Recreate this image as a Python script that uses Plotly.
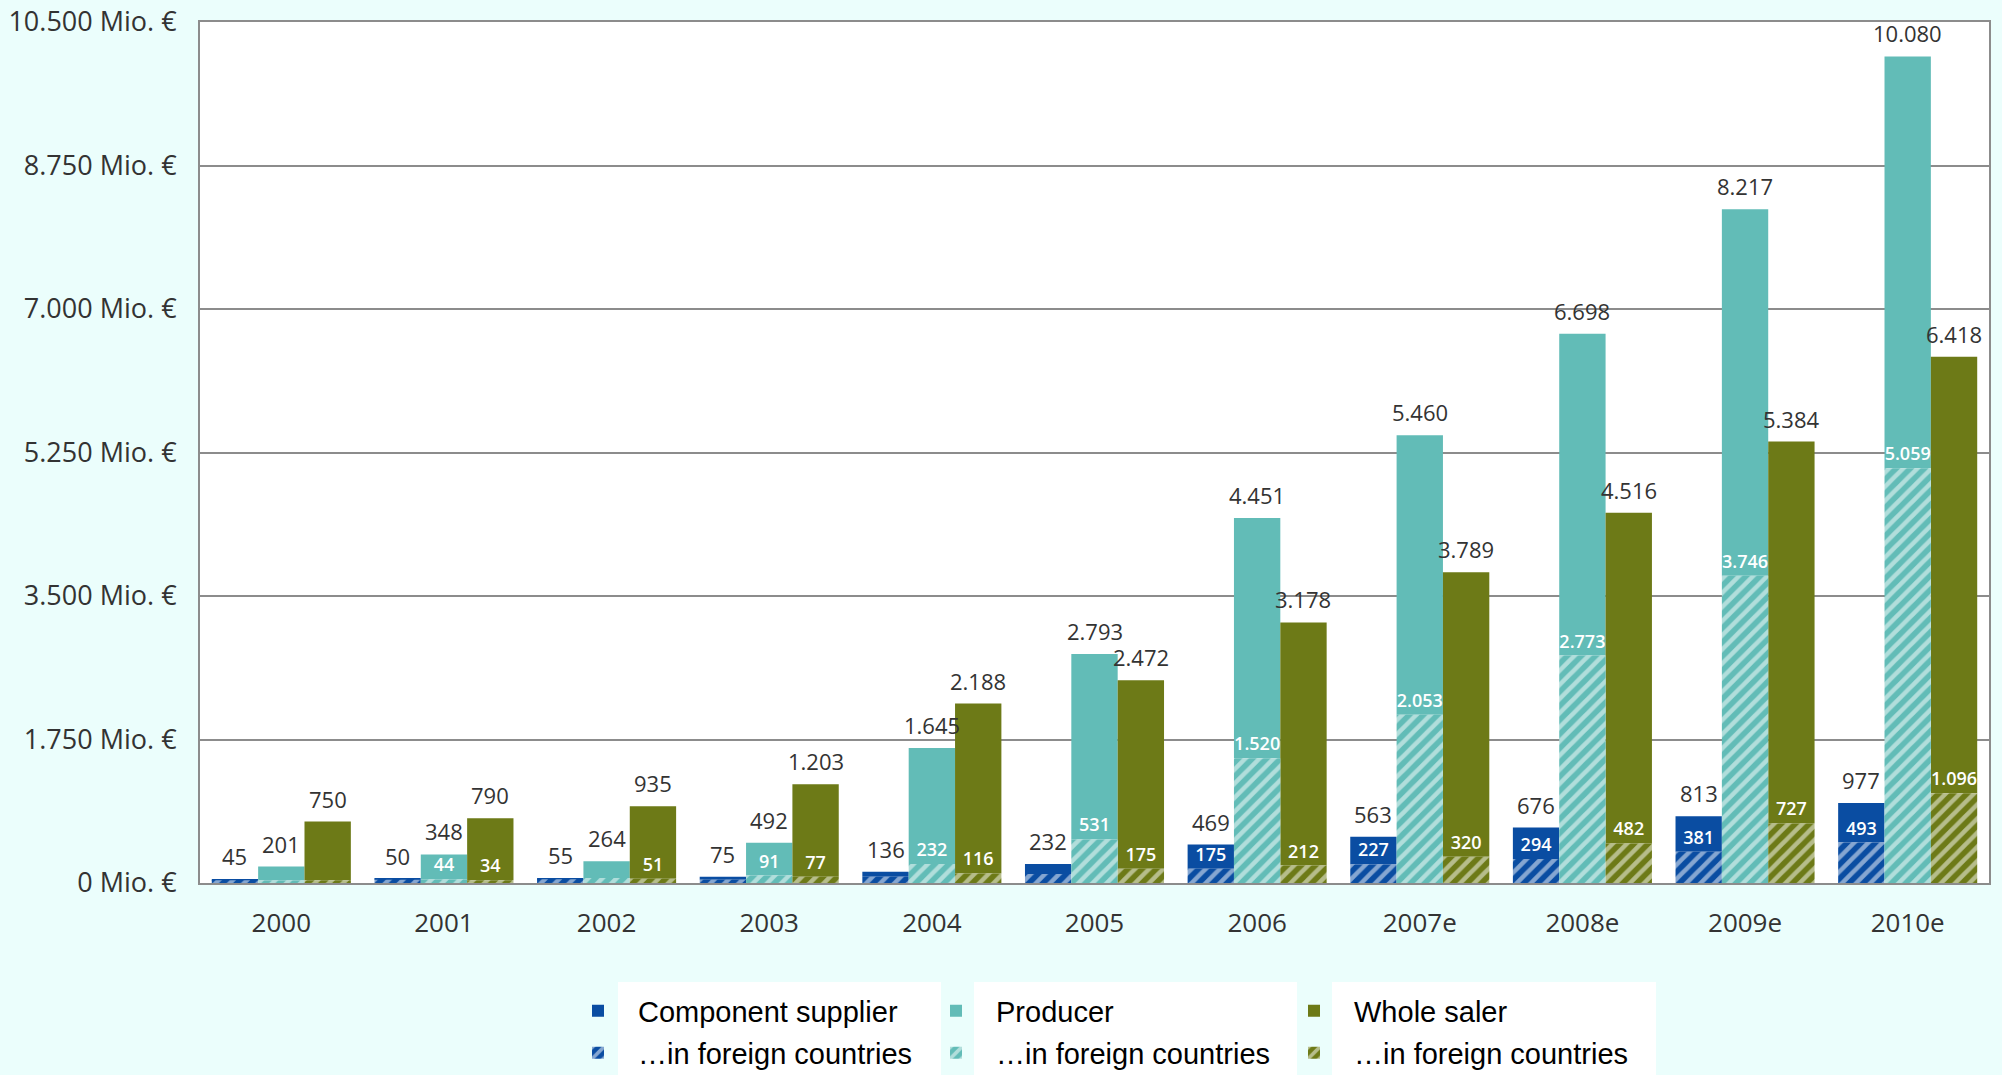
import plotly.graph_objects as go

years = ["2000", "2001", "2002", "2003", "2004", "2005", "2006", "2007e", "2008e", "2009e", "2010e"]

component_total = [45, 50, 55, 75, 136, 232, 469, 563, 676, 813, 977]
producer_total = [201, 348, 264, 492, 1645, 2793, 4451, 5460, 6698, 8217, 10080]
wholesaler_total = [750, 790, 935, 1203, 2188, 2472, 3178, 3789, 4516, 5384, 6418]

component_foreign = [35, 40, 45, 40, 75, 110, 175, 227, 294, 381, 493]
producer_foreign = [30, 44, 60, 91, 232, 531, 1520, 2053, 2773, 3746, 5059]
wholesaler_foreign = [35, 34, 51, 77, 116, 175, 212, 320, 482, 727, 1096]

# which foreign values are printed in the chart
component_foreign_shown = [False] * 6 + [True] * 5
producer_foreign_shown = [False, True, False] + [True] * 8
wholesaler_foreign_shown = [False] + [True] * 10

series_names = ["Component supplier", "Producer", "Whole saler"]
foreign_name = "…in foreign countries"
colors = ["#0A4DA2", "#62BCB7", "#6D7A17"]

BG = "#EBFEFC"
GRID = "#8C8C8C"
TXT = "#333333"
FONT = "Open Sans"
BARGAP = 0.145


def de(v):
    return f"{v:,}".replace(",", ".")


totals = [component_total, producer_total, wholesaler_total]
foreigns = [component_foreign, producer_foreign, wholesaler_foreign]
shown = [component_foreign_shown, producer_foreign_shown, wholesaler_foreign_shown]

fig = go.Figure()

# solid (domestic) part
for i in range(3):
    tot, fo = totals[i], foreigns[i]
    fig.add_trace(go.Bar(
        x=years,
        y=[t - f for t, f in zip(tot, fo)],
        base=fo,
        name=series_names[i],
        offsetgroup=str(i),
        marker=dict(color=colors[i], line=dict(width=0)),
        legend="legend",
        hoverinfo="skip",
    ))

# hatched (foreign) part, label placed just above it
for i in range(3):
    fo, sh = foreigns[i], shown[i]
    fig.add_trace(go.Bar(
        x=years,
        y=fo,
        name=foreign_name,
        offsetgroup=str(i),
        marker=dict(
            color=colors[i],
            line=dict(width=0),
            pattern=dict(shape="/", fgcolor="white", bgcolor=colors[i], size=10, solidity=0.45),
        ),
        text=[de(f) if s else "" for f, s in zip(fo, sh)],
        textposition="outside",
        textfont=dict(family=FONT, size=18, color="white", weight=600),
        constraintext="none",
        cliponaxis=False,
        legend="legend2",
        hoverinfo="skip",
    ))

# total labels above each bar
slot = (1 - BARGAP) / 3
annotations = []
for i in range(3):
    for j, t in enumerate(totals[i]):
        annotations.append(dict(
            x=j + (i - 1) * slot, y=t, xref="x", yref="y",
            text=de(t), showarrow=False,
            xanchor="center", yanchor="bottom", yshift=6,
            font=dict(family=FONT, size=22, color=TXT),
        ))

# white boxes behind the legend texts
W0, W1 = 200, 1989
H0, H1 = 883, 22
def px(x):
    return (x - W0) / (W1 - W0)
def py(y):
    return (H0 - y) / (H0 - H1)

shapes = []
for x0, x1 in [(618, 941), (974, 1297), (1332, 1656)]:
    shapes.append(dict(type="rect", xref="paper", yref="paper",
                       x0=px(x0), x1=px(x1), y0=py(1075), y1=py(982),
                       fillcolor="white", line=dict(width=0), layer="below"))

legend_common = dict(
    orientation="h",
    xref="container", yref="container",
    xanchor="left", yanchor="middle",
    bgcolor="rgba(0,0,0,0)",
    font=dict(family="Liberation Sans", size=29, color="black"),
    itemwidth=70,
    entrywidth=273,
    entrywidthmode="pixels",
    traceorder="normal",
    itemclick=False, itemdoubleclick=False,
)

fig.update_layout(
    width=2002, height=1075,
    paper_bgcolor=BG, plot_bgcolor="white",
    margin=dict(l=200, r=13, t=22, b=192, autoexpand=False),
    barmode="group",
    bargap=BARGAP, bargroupgap=0,
    separators=",.",
    showlegend=True,
    legend=dict(legend_common, x=558 / 2002, y=1 - 1011 / 1075),
    legend2=dict(legend_common, x=558 / 2002, y=1 - 1053 / 1075),
    shapes=shapes,
    annotations=annotations,
    xaxis=dict(
        showline=True, linecolor=GRID, linewidth=2, mirror=True,
        ticks="", tickfont=dict(family=FONT, size=26, color=TXT),
        ticklabelstandoff=16,
    ),
    yaxis=dict(
        range=[0, 10500], tick0=0, dtick=1750,
        showgrid=True, gridcolor=GRID, gridwidth=2,
        zeroline=False,
        showline=True, linecolor=GRID, linewidth=2, mirror=True,
        ticks="", tickformat=",d", ticksuffix=" Mio. €",
        tickfont=dict(family=FONT, size=27, color=TXT),
        ticklabelstandoff=16,
    ),
)

fig.write_html("out.html")
